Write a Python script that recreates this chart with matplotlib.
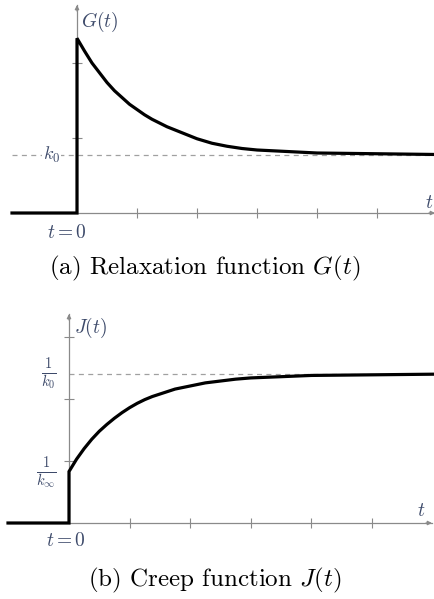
import numpy as np
import matplotlib

matplotlib.use("Agg")
import matplotlib.pyplot as plt

plt.rcParams["mathtext.fontset"] = "cm"

# ── Data ──
t_relax = [0.0, 0.125, 0.25, 0.375, 0.5, 0.625, 0.75, 0.875, 1.0, 1.125, 1.25, 1.375,
           1.5, 1.75, 2.0, 2.25, 2.5, 2.75, 3.0, 3.5, 4.0, 5.0, 6.0]
G_vals = [2.33, 2.16, 2.00, 1.87, 1.74, 1.63, 1.54, 1.45, 1.38, 1.31, 1.25, 1.20,
          1.15, 1.07, 0.99, 0.93, 0.89, 0.86, 0.84, 0.82, 0.80, 0.79, 0.78]
k0_level = 0.78

t_creep = [0.0, 0.125, 0.25, 0.375, 0.5, 0.625, 0.75, 0.875, 1.0, 1.125, 1.25, 1.375,
           1.5, 1.75, 2.0, 2.25, 2.5, 2.75, 3.0, 3.5, 4.0, 5.0, 6.0]
J_vals = [0.83, 1.03, 1.20, 1.35, 1.48, 1.59, 1.69, 1.78, 1.86, 1.93, 1.99, 2.04,
          2.08, 2.16, 2.21, 2.26, 2.29, 2.32, 2.34, 2.36, 2.38, 2.39, 2.40]
inv_k0_level = 2.40

x_ticks = [1, 2, 3, 4, 5]
G_yticks = [1, 2]
J_yticks = [1, 2, 3]

AXIS = "#8a8a8a"
DASH = "#a0a0a0"
LABEL = "#3d4a6a"
FS = 14

W, H = 435, 599
fig = plt.figure(figsize=(W / 100, H / 100), dpi=100)


def _panel(top_px, bot_px, x0_px, y0_px, sx, sy):
    """Axes spanning full width between pixel rows; data origin at (x0_px, y0_px)."""
    ax = fig.add_axes([0, (H - bot_px) / H, 1, (bot_px - top_px) / H])
    ax.set_xlim(-x0_px / sx, (W - x0_px) / sx)
    ax.set_ylim((y0_px - bot_px) / sy, (y0_px - top_px) / sy)
    ax.axis("off")
    return ax


def _axes_lines(ax, xleft, xright, ytop, xt, yt, sx, sy):
    ax.plot([xleft, xright], [0, 0], color=AXIS, lw=0.9, zorder=1, clip_on=False)
    ax.plot([0, 0], [0, ytop], color=AXIS, lw=0.9, zorder=1, clip_on=False)
    head = dict(arrowstyle="-|>", color=AXIS, lw=0.9, mutation_scale=6,
                shrinkA=0, shrinkB=0)
    ax.annotate("", xy=(xright, 0), xytext=(xright - 6 / sx, 0), arrowprops=head,
                annotation_clip=False, zorder=1)
    ax.annotate("", xy=(0, ytop), xytext=(0, ytop - 6 / sy), arrowprops=head,
                annotation_clip=False, zorder=1)
    ax.plot(xt, [0] * len(xt), ls="none", marker="|", ms=7, mew=0.8, color=AXIS, zorder=1)
    ax.plot([0] * len(yt), yt, ls="none", marker="_", ms=7, mew=0.8, color=AXIS, zorder=1)


# ── (a) Relaxation function ──
sx, sy = 60.0, 75.0
ax1 = _panel(0, 250, 77, 213, sx, sy)
_axes_lines(ax1, -65 / sx, 358 / sx, 208 / sy, x_ticks, G_yticks, sx, sy)
ax1.plot([-65 / sx, 360 / sx], [k0_level, k0_level], color=DASH, lw=0.9,
         ls=(0, (4, 3.5)), zorder=0)
ax1.plot([-65 / sx, 0, 0] + t_relax[1:], [0, 0] + G_vals, color="black", lw=2.3,
         solid_joinstyle="miter", zorder=3)
ax1.text(0.07, 191 / sy, r"$G(t)$", fontsize=FS, color=LABEL, ha="left", va="center")
ax1.text(-0.28, k0_level, r"$k_0$", fontsize=13, color=LABEL, ha="right", va="center",
         bbox=dict(fc="white", ec="none", pad=0.8), zorder=2)
ax1.text(352 / sx, 11 / sy, r"$t$", fontsize=FS, color=LABEL, ha="center", va="center")
ax1.text(-0.17, -19 / sy, r"$t = 0$", fontsize=FS, color=LABEL, ha="center", va="center")

# ── (b) Creep function ──
sx, sy = 60.6, 62.0
ax2 = _panel(300, 560, 69, 523, sx, sy)
_axes_lines(ax2, -61 / sx, 363 / sx, 209 / sy, x_ticks, J_yticks, sx, sy)
ax2.plot([0, 366 / sx], [inv_k0_level, inv_k0_level], color=DASH, lw=0.9,
         ls=(0, (4, 3.5)), zorder=0)
ax2.plot([-61 / sx, 0, 0] + t_creep[1:], [0, 0] + J_vals, color="black", lw=2.3,
         solid_joinstyle="miter", zorder=3)
ax2.text(0.08, 195 / sy, r"$J(t)$", fontsize=FS, color=LABEL, ha="left", va="center")
ax2.text(-0.2, inv_k0_level, r"$\frac{1}{k_0}$", fontsize=15, color=LABEL,
         ha="right", va="center")
ax2.text(-0.2, J_vals[0] - 0.03, r"$\frac{1}{k_\infty}$", fontsize=15, color=LABEL,
         ha="right", va="center")
ax2.text(352 / sx, 13 / sy, r"$t$", fontsize=FS, color=LABEL, ha="center", va="center")
ax2.text(-0.05, -17 / sy, r"$t = 0$", fontsize=FS, color=LABEL, ha="center", va="center")

# ── Captions ──
fig.text(205 / W, 1 - 268 / H, r"(a) Relaxation function $G(t)$", fontsize=18,
         family="cmr10", ha="center", va="center")
fig.text(215 / W, 1 - 580 / H, r"(b) Creep function $J(t)$", fontsize=18,
         family="cmr10", ha="center", va="center")

fig.savefig("out.png", dpi=100, facecolor="white")
